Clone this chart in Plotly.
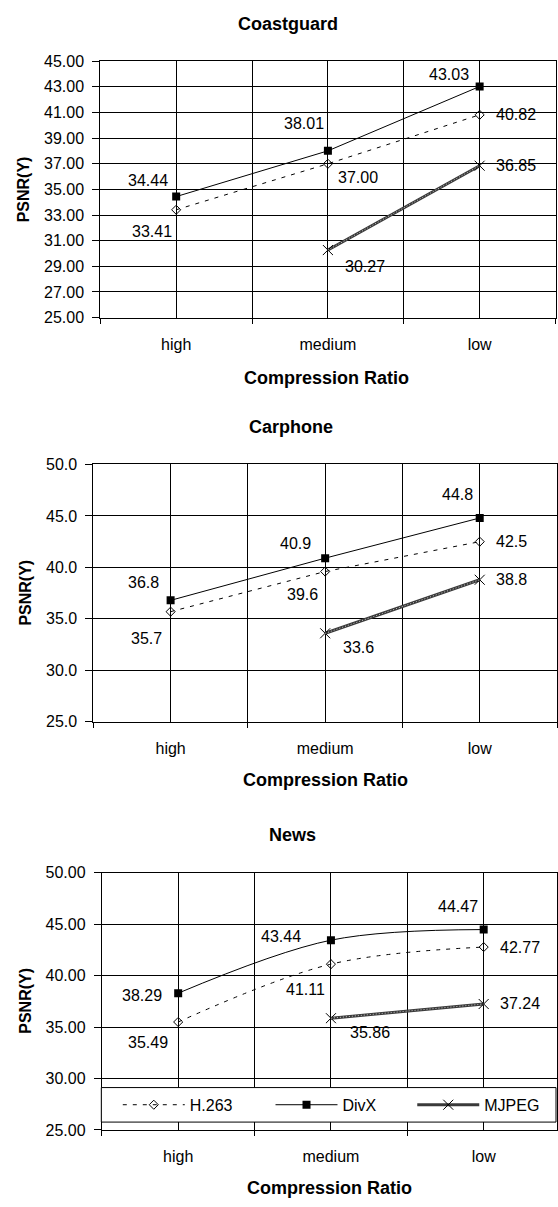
import plotly.graph_objects as go

# ---------------- data ----------------
categories = ["high", "medium", "low"]
panel_titles = ["Coastguard", "Carphone", "News"]
series_names = ["H.263", "DivX", "MJPEG"]

coast_h263 = [33.41, 37.00, 40.82]
coast_divx = [34.44, 38.01, 43.03]
coast_mjpeg = [None, 30.27, 36.85]

car_h263 = [35.7, 39.6, 42.5]
car_divx = [36.8, 40.9, 44.8]
car_mjpeg = [None, 33.6, 38.8]

news_h263 = [35.49, 41.11, 42.77]
news_divx = [38.29, 43.44, 44.47]
news_mjpeg = [None, 35.86, 37.24]

coast_yticks = [25, 27, 29, 31, 33, 35, 37, 39, 41, 43, 45]
car_yticks = [25, 30, 35, 40, 45, 50]
news_yticks = [25, 30, 35, 40, 45, 50]

# ---------------- layout / style config ----------------
W, H = 558, 1207
FONT = "Liberation Sans, Arial, sans-serif"
panels = [
    dict(data=[coast_h263, coast_divx, coast_mjpeg], yticks=coast_yticks, fmt="{:.2f}",
         box=(100.5, 556.5, 54, 314), xmax=2.5, shape="linear",
         title_xy=(289, 16), xt_xy=(327, 375), yt_xy=(23, 184),
         labels=[[("right", -2, 22), ("left", 8, 14), ("left", 14, 0)],
                 [("right", -6, -16), ("right", -2, -27), ("right", -9, -12)],
                 [None, ("left", 15, 16), ("left", 14, 0)]]),
    dict(data=[car_h263, car_divx, car_mjpeg], yticks=car_yticks, fmt="{:.1f}",
         box=(93.5, 558, 463, 724), xmax=2.5, shape="linear",
         title_xy=(292, 425), xt_xy=(326, 783), yt_xy=(26, 593),
         labels=[[("right", -7, 27), ("right", -5, 23), ("left", 14, 0)],
                 [("right", -10, -18), ("right", -12, -15), ("right", -5, -23)],
                 [None, ("left", 16, 14), ("left", 14, 0)]]),
    dict(data=[news_h263, news_divx, news_mjpeg], yticks=news_yticks, fmt="{:.2f}",
         box=(102, 558, 877, 1138), xmax=2.48, shape="spline",
         title_xy=(293, 839), xt_xy=(330, 1197), yt_xy=(26, 1007),
         labels=[[("right", -8, 21), ("right", -4, 25), ("left", 14, 0)],
                 [("right", -14, 2), ("right", -28, -4), ("right", -4, -23)],
                 [None, ("left", 17, 14), ("left", 14, 0)]]),
]
# legend entry start positions (px) for H.263, DivX, MJPEG
legend_x_px = [118, 271, 413]
legend_ids = ["legend", "legend2", "legend3"]

fig = go.Figure()
annotations = []
shapes = []
xs = list(range(len(categories)))

for i, p in enumerate(panels):
    n = "" if i == 0 else str(i + 1)
    xref, yref = "x" + n, "y" + n
    h263, divx, mjpeg = p["data"]
    show = (i == 2)
    fig.add_trace(go.Scatter(
        x=xs, y=h263, name=series_names[0], mode="lines+markers",
        line=dict(color="black", width=1, dash="4px,6px", shape=p["shape"], smoothing=1),
        marker=dict(symbol="diamond-open", size=7, color="black", line=dict(width=1, color="black")),
        xaxis=xref, yaxis=yref, showlegend=show, legend=legend_ids[0]))
    fig.add_trace(go.Scatter(
        x=xs, y=divx, name=series_names[1], mode="lines+markers",
        line=dict(color="black", width=1, shape=p["shape"], smoothing=1),
        marker=dict(symbol="square", size=8, color="black"),
        xaxis=xref, yaxis=yref, showlegend=show, legend=legend_ids[1]))
    fig.add_trace(go.Scatter(
        x=xs, y=mjpeg, name=series_names[2], mode="lines+markers",
        line=dict(color="#3a3a3a", width=3),
        marker=dict(symbol="x-thin", size=10, color="black", line=dict(width=1, color="black")),
        xaxis=xref, yaxis=yref, showlegend=show, legend=legend_ids[2]))
    fig.add_trace(go.Scatter(
        x=xs, y=mjpeg, mode="lines", hoverinfo="skip",
        line=dict(color="#c8c8c8", width=1, dash="1px,2px"),
        xaxis=xref, yaxis=yref, showlegend=False))

    l, r, t, b = p["box"]
    yt = p["yticks"]
    fig.update_layout(**{
        "xaxis" + n: dict(
            domain=[l / W, r / W], anchor=yref, range=[-0.5, p["xmax"]],
            tickvals=xs, ticktext=categories, ticks="", ticklabelstandoff=12,
            showgrid=True, gridcolor="black", gridwidth=1, zeroline=False,
            showline=True, linecolor="black", linewidth=1, mirror=True,
            minor=dict(tick0=-0.5, dtick=1, showgrid=True, gridcolor="black", gridwidth=1,
                       ticks="outside", ticklen=5, tickcolor="black"),
            tickfont=dict(family=FONT, size=16, color="black"), fixedrange=True),
        "yaxis" + n: dict(
            domain=[1 - b / H, 1 - t / H], anchor=xref, range=[yt[0], yt[-1]],
            tickvals=yt, ticktext=[p["fmt"].format(v) for v in yt],
            ticks="outside", ticklen=7, tickcolor="black", ticklabelstandoff=5,
            showgrid=True, gridcolor="black", gridwidth=1, zeroline=False,
            showline=True, linecolor="black", linewidth=1, mirror=True,
            tickfont=dict(family=FONT, size=16, color="black"), fixedrange=True),
    })

    for s, vals in enumerate(p["data"]):
        for k, v in enumerate(vals):
            st = p["labels"][s][k]
            if v is None or st is None:
                continue
            anc, dx, dy = st
            annotations.append(dict(
                xref=xref, yref=yref, x=xs[k], y=v, text=p["fmt"].format(v),
                showarrow=False, xanchor=anc, yanchor="middle", xshift=dx, yshift=-dy,
                font=dict(family=FONT, size=16, color="black")))

    tx, ty = p["title_xy"]
    annotations.append(dict(xref="paper", yref="paper", x=tx / W, y=1 - ty / H,
                            text="<b>%s</b>" % panel_titles[i], showarrow=False,
                            xanchor="center", yanchor="middle",
                            font=dict(family=FONT, size=18, color="black")))
    ax, ay = p["xt_xy"]
    annotations.append(dict(xref="paper", yref="paper", x=ax / W, y=1 - ay / H,
                            text="<b>Compression Ratio</b>", showarrow=False,
                            xanchor="center", yanchor="middle",
                            font=dict(family=FONT, size=18, color="black")))
    yx, yy = p["yt_xy"]
    annotations.append(dict(xref="paper", yref="paper", x=yx / W, y=1 - yy / H,
                            text="<b>PSNR(Y)</b>", showarrow=False, textangle=-90,
                            xanchor="center", yanchor="middle",
                            font=dict(family=FONT, size=16, color="black")))

# legend frame (white box with black border inside the News panel)
shapes.append(dict(type="rect", xref="paper", yref="paper",
                   x0=101.5 / W, x1=557 / W, y0=1 - 1130 / H, y1=1 - 1095 / H,
                   line=dict(color="black", width=1), fillcolor="white", layer="above"))

legend_layout = {}
for lid, lx in zip(legend_ids, legend_x_px):
    legend_layout[lid] = dict(
        orientation="h", x=lx / W, y=1 - 1112.5 / H, xanchor="left", yanchor="middle",
        bgcolor="rgba(0,0,0,0)", borderwidth=0, itemwidth=62,
        font=dict(family=FONT, size=16, color="black"))

fig.update_layout(
    width=W, height=H, margin=dict(l=0, r=0, t=0, b=0),
    paper_bgcolor="white", plot_bgcolor="white",
    annotations=annotations, shapes=shapes, **legend_layout)

fig.write_html("out.html", config=dict(displayModeBar=False, staticPlot=True),
               post_script="document.body.style.margin='0';document.body.style.overflow='hidden';")
